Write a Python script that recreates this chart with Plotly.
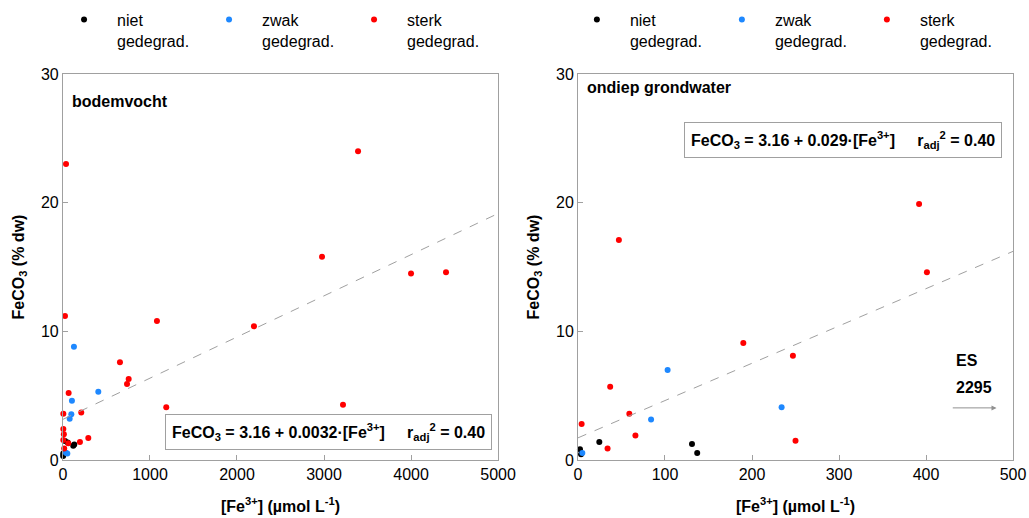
import plotly.graph_objects as go

# ---------------- data: bodemvocht (left) ----------------
L_niet_x = [23, 54, 130, 118, 3, 2]
L_niet_y = [1.48, 1.35, 1.2, 1.1, 0.5, 0.3]
L_zwak_x = [126, 406, 103, 96, 77, 34, 50]
L_zwak_y = [8.8, 5.3, 4.6, 3.55, 3.2, 0.57, 0.5]
L_sterk_x = [35, 3391, 2977, 4000, 4402, 1080, 2195, 23, 655, 755, 736, 1187, 3218,
             65, 210, 4, 4, 10, 291, 195, 61, 4, 14]
L_sterk_y = [23.0, 24.0, 15.8, 14.5, 14.6, 10.8, 10.4, 11.2, 7.6, 6.3, 5.9, 4.1, 4.3,
             5.2, 3.7, 3.6, 2.4, 2.0, 1.7, 1.4, 1.3, 1.55, 0.9]
L_fit_x = [0, 5000]
L_intercept, L_slope = 3.16, 0.0032

# ---------------- data: ondiep grondwater (right) ----------------
R_niet_x = [24.5, 131, 137, 2.3, 3.5]
R_niet_y = [1.4, 1.25, 0.55, 0.83, 0.44]
R_zwak_x = [103, 234, 84, 5]
R_zwak_y = [7.0, 4.1, 3.15, 0.55]
R_sterk_x = [392, 401, 47, 190, 247, 37, 59, 4.2, 66, 34, 250]
R_sterk_y = [19.9, 14.6, 17.1, 9.1, 8.1, 5.7, 3.6, 2.8, 1.9, 0.9, 1.5]
R_fit_x = [0, 500]
R_intercept, R_slope = 1.72, 0.029

categories = ["niet<br>gedegrad.", "zwak<br>gedegrad.", "sterk<br>gedegrad."]
colors = ["#000000", "#1E88FF", "#FF0000"]

FONT = "Liberation Sans, Arial, sans-serif"
fig = go.Figure()

left = [(L_niet_x, L_niet_y), (L_zwak_x, L_zwak_y), (L_sterk_x, L_sterk_y)]
right = [(R_niet_x, R_niet_y), (R_zwak_x, R_zwak_y), (R_sterk_x, R_sterk_y)]

for (xs, ys), name, c in zip(left, categories, colors):
    fig.add_trace(go.Scatter(x=xs, y=ys, mode="markers", name=name,
                             marker=dict(color=c, size=6), xaxis="x", yaxis="y",
                             legend="legend", cliponaxis=False))
for (xs, ys), name, c in zip(right, categories, colors):
    fig.add_trace(go.Scatter(x=xs, y=ys, mode="markers", name=name,
                             marker=dict(color=c, size=6), xaxis="x2", yaxis="y2",
                             legend="legend2", cliponaxis=False))

fig.add_trace(go.Scatter(x=L_fit_x, y=[L_intercept + L_slope * v for v in L_fit_x],
                         mode="lines", line=dict(color="#A0A0A0", width=1, dash="dash"),
                         showlegend=False, xaxis="x", yaxis="y"))
fig.add_trace(go.Scatter(x=R_fit_x, y=[R_intercept + R_slope * v for v in R_fit_x],
                         mode="lines", line=dict(color="#A0A0A0", width=1, dash="dash"),
                         showlegend=False, xaxis="x2", yaxis="y2"))

axis_common = dict(showline=True, linecolor="#A0A0A0", linewidth=1, mirror=True,
                   ticks="inside", ticklen=5, tickcolor="#A0A0A0", showgrid=False,
                   zeroline=False, automargin=False,
                   tickfont=dict(family=FONT, size=16, color="black"))

xtitle = dict(text="<b>[Fe<sup>3+</sup>] (µmol L<sup>-1</sup>)</b>",
              font=dict(family=FONT, size=16, color="black"), standoff=18)
ytitle = dict(text="<b>FeCO<sub>3</sub> (% dw)</b>",
              font=dict(family=FONT, size=16, color="black"), standoff=12)

legend_common = dict(orientation="h", y=0.995, xanchor="left", yanchor="top",
                     entrywidth=74, entrywidthmode="pixels", valign="top", itemwidth=56,
                     font=dict(family=FONT, size=16, color="black"), bgcolor="rgba(0,0,0,0)")

fig.update_layout(
    width=1029, height=518,
    margin=dict(l=0, r=0, t=0, b=0, autoexpand=False),
    paper_bgcolor="white", plot_bgcolor="white",
    font=dict(family=FONT, color="black"),
    xaxis=dict(domain=[0.0612, 0.484], range=[0, 5000], tickvals=[0, 1000, 2000, 3000, 4000, 5000],
               title=xtitle, anchor="y", **axis_common),
    yaxis=dict(domain=[0.112, 0.857], range=[0, 30], tickvals=[0, 10, 20, 30],
               title=ytitle, anchor="x", **axis_common),
    xaxis2=dict(domain=[0.5617, 0.9845], range=[0, 500], tickvals=[0, 100, 200, 300, 400, 500],
                title=xtitle, anchor="y2", **axis_common),
    yaxis2=dict(domain=[0.112, 0.857], range=[0, 30], tickvals=[0, 10, 20, 30],
                title=ytitle, anchor="x2", **axis_common),
    legend=dict(x=0.0496, **legend_common),
    legend2=dict(x=0.548, **legend_common),
)

eq_font = dict(family=FONT, size=16, color="black")
nb = "\u00a0"
fig.add_annotation(xref="paper", yref="paper", x=0.3197, y=0.166, xanchor="center", yanchor="middle",
                   text="<b>FeCO<sub>3</sub> = 3.16 + 0.0032·[Fe<sup>3+</sup>]" + nb * 5 +
                        "r<sub>adj</sub><sup>2</sup> = 0.40</b>",
                   showarrow=False, font=eq_font, bordercolor="#A0A0A0", borderwidth=1,
                   borderpad=6, bgcolor="white")
fig.add_annotation(xref="paper", yref="paper", x=0.8197, y=0.7288, xanchor="center", yanchor="middle",
                   text="<b>FeCO<sub>3</sub> = 3.16 + 0.029·[Fe<sup>3+</sup>]" + nb * 5 +
                        "r<sub>adj</sub><sup>2</sup> = 0.40</b>",
                   showarrow=False, font=eq_font, bordercolor="#A0A0A0", borderwidth=1,
                   borderpad=6, bgcolor="white")

fig.add_annotation(xref="x domain", yref="y domain", x=0.015, y=0.93, xanchor="left", yanchor="middle",
                   text="<b>bodemvocht</b>", showarrow=False, font=eq_font)
fig.add_annotation(xref="x2 domain", yref="y2 domain", x=0.015, y=0.965, xanchor="left", yanchor="middle",
                   text="<b>ondiep grondwater</b>", showarrow=False, font=eq_font)

# ES 2295 off-scale marker
fig.add_annotation(xref="x2", yref="y2", x=432, y=7.7, xanchor="left", yanchor="middle",
                   text="<b>ES</b>", showarrow=False, font=eq_font)
fig.add_annotation(xref="x2", yref="y2", x=432, y=5.6, xanchor="left", yanchor="middle",
                   text="<b>2295</b>", showarrow=False, font=eq_font)
fig.add_annotation(xref="x2", yref="y2", axref="x2", ayref="y2", x=481, y=4.05, ax=429, ay=4.05,
                   text="", showarrow=True, arrowhead=2, arrowsize=1, arrowwidth=1,
                   arrowcolor="#909090")

fig.write_html("out.html")
